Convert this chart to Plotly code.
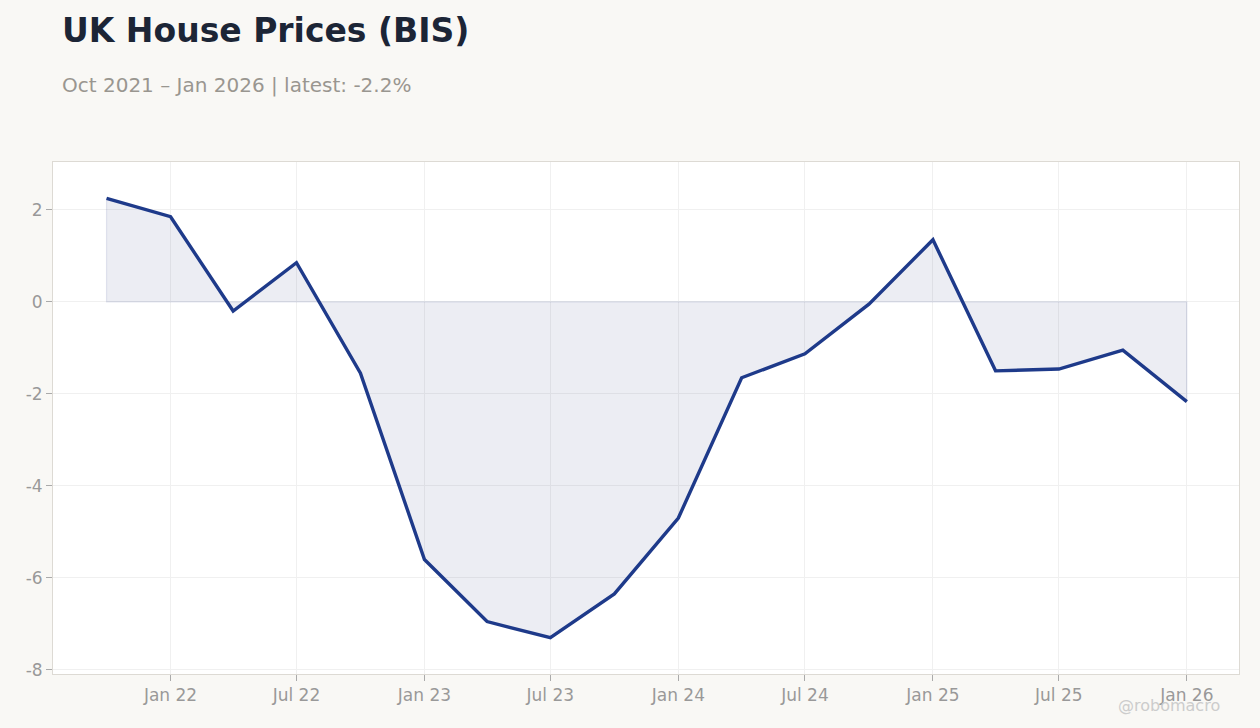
import plotly.graph_objects as go

dates = ["2021-10-01", "2022-01-01", "2022-04-01", "2022-07-01", "2022-10-01",
         "2023-01-01", "2023-04-01", "2023-07-01", "2023-10-01", "2024-01-01",
         "2024-04-01", "2024-07-01", "2024-10-01", "2025-01-01", "2025-04-01",
         "2025-07-01", "2025-10-01", "2026-01-01"]
yoy = [2.25, 1.85, -0.2, 0.85, -1.55, -5.6, -6.95, -7.3, -6.35, -4.7,
       -1.65, -1.13, -0.05, 1.35, -1.5, -1.46, -1.05, -2.17]
ytick_vals = [-8, -6, -4, -2, 0, 2]
ytick_text = ["-8", "-6", "-4", "-2", "0", "2"]

FONT = "DejaVu Sans"
NAVY = "#1e3a8a"

fig = go.Figure()
# shaded area between the series and zero, closed back along the zero line
fig.add_trace(go.Scatter(
    x=dates + [dates[-1], dates[0], dates[0]],
    y=yoy + [0, 0, yoy[0]],
    mode="lines", fill="toself",
    fillcolor="rgba(40,50,120,0.085)",
    line=dict(color="rgba(40,60,140,0.12)", width=1.2),
    hoverinfo="skip", showlegend=False,
))
fig.add_trace(go.Scatter(
    x=dates, y=yoy, mode="lines",
    line=dict(color=NAVY, width=3.4),
    hoverinfo="x+y", showlegend=False,
))

fig.update_layout(
    width=1260, height=728,
    paper_bgcolor="#f9f8f5", plot_bgcolor="#ffffff",
    margin=dict(l=53, r=21, t=162, b=54),
    font=dict(family=FONT, color="#999999", size=17),
    annotations=[
        dict(text="<b>UK House Prices (BIS)</b>", xref="paper", yref="paper",
             x=7 / 1186, y=1 + 132 / 512, xanchor="left", yanchor="middle",
             showarrow=False, font=dict(size=33, color="#1c2536", family=FONT)),
        dict(text="Oct 2021 – Jan 2026 | latest: -2.2%", xref="paper", yref="paper",
             x=7 / 1186, y=1 + 77 / 512, xanchor="left", yanchor="middle",
             showarrow=False, font=dict(size=20, color="#999690", family=FONT)),
        dict(text="@robomacro", xref="paper", yref="paper",
             x=1 - 17 / 1186, y=-31 / 512, xanchor="right", yanchor="middle",
             showarrow=False, font=dict(size=16, color="#cccccc", family=FONT)),
    ],
)

fig.update_xaxes(
    range=["2021-07-16", "2026-03-17"],
    tick0="2022-01-01", dtick="M6", tickformat="%b %y",
    showgrid=True, gridcolor="#f0f0f0", gridwidth=1,
    ticks="outside", ticklen=6, tickcolor="#aaaaaa",
    showline=True, linecolor="#dddad4", mirror=True,
    zeroline=False,
)
fig.update_yaxes(
    range=[-8.09, 3.04],
    tickvals=ytick_vals, ticktext=ytick_text,
    showgrid=True, gridcolor="#f0f0f0", gridwidth=1,
    ticks="outside", ticklen=6, tickcolor="#aaaaaa",
    showline=True, linecolor="#dddad4", mirror=True,
    zeroline=False,
)

fig.write_html("out.html", config={"displayModeBar": False},
               post_script="document.body.style.margin='0';")
